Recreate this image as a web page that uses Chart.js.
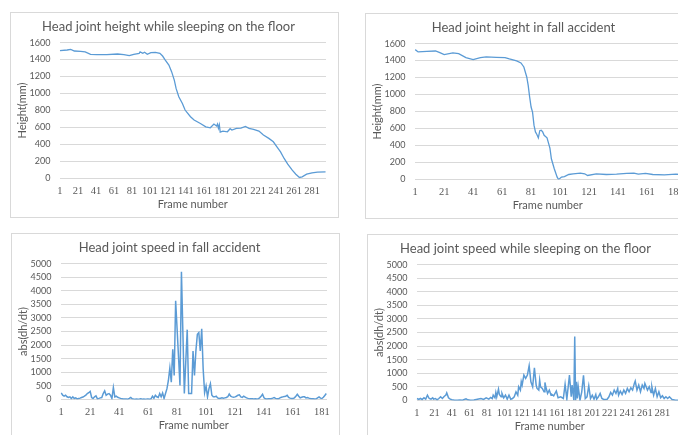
<!DOCTYPE html>
<html>
<head>
<meta charset="utf-8">
<script src="https://cdn.jsdelivr.net/npm/chart.js@4"></script>
<style>
  html, body { margin: 0; padding: 0; background: #fff; overflow: hidden; width: 678px; height: 435px; }
  .panel { position: absolute; width: 329px; height: 206px; box-sizing: border-box; border: 1px solid #d9d9d9; background: #fff; }
  .panel canvas { position: absolute; left: 0; top: 0; }
</style>
</head>
<body>
<div class="panel" style="left:10px;top:12px"><canvas id="sleepHeight" width="327" height="204"></canvas></div>
<div class="panel" style="left:365px;top:13px"><canvas id="fallHeight" width="327" height="204"></canvas></div>
<div class="panel" style="left:11px;top:233px"><canvas id="fallSpeed" width="327" height="204"></canvas></div>
<div class="panel" style="left:367px;top:234px"><canvas id="sleepSpeed" width="327" height="204"></canvas></div>
<script>
// tick labels
const sleepFrameTicks = [1, 21, 41, 61, 81, 101, 121, 141, 161, 181, 201, 221, 241, 261, 281];
const fallFrameTicks = [1, 21, 41, 61, 81, 101, 121, 141, 161, 181];
const heightTicks = [0, 200, 400, 600, 800, 1000, 1200, 1400, 1600];
const speedTicks = [0, 500, 1000, 1500, 2000, 2500, 3000, 3500, 4000, 4500, 5000];

// head joint height while sleeping on the floor (mm), read at these frames
const sleepHeightFrames = [1, 9, 13, 17, 24, 29, 35, 42, 53, 65, 72, 78, 83, 89, 90, 93, 95, 98, 102, 107,
  112, 115, 118, 122, 125, 128, 130, 133, 137, 140, 146, 150, 157, 163, 168, 172, 175, 176, 177, 178,
  179, 182, 187, 190, 192, 197, 202, 207, 211, 216, 222, 227, 233, 238, 242, 246, 250, 254, 259, 263,
  267, 270, 275, 281, 287, 296];
const sleepHeightValues = [1505, 1513, 1521, 1501, 1497, 1490, 1462, 1458, 1458, 1466, 1458, 1446, 1462, 1474, 1490, 1474, 1486, 1462, 1482, 1486,
  1474, 1442, 1395, 1336, 1258, 1159, 1061, 963, 884, 806, 727, 688, 648, 609, 597, 641, 617, 641, 593, 633,
  546, 558, 550, 586, 570, 590, 593, 613, 590, 578, 558, 511, 472, 432, 373, 314, 236, 169, 98, 51,
  12, 20, 51, 67, 75, 79];

// head joint height in fall accident (mm)
const fallHeightFrames = [1, 3, 9, 15, 18, 21, 27, 31, 36, 41, 46, 50, 57, 63, 66, 71, 74, 76, 78, 79,
  80, 81, 82, 83, 84, 85, 86, 87, 88, 89, 90, 92, 94, 95, 97, 99, 100, 102, 104, 107,
  110, 115, 118, 120, 126, 133, 140, 147, 152, 155, 160, 165, 173, 181, 184];
const fallHeightValues = [1529, 1502, 1509, 1513, 1494, 1470, 1490, 1482, 1435, 1411, 1435, 1443, 1439, 1435, 1419, 1396, 1372, 1325, 1207, 1109,
  971, 853, 794, 640, 560, 530, 490, 575, 580, 560, 520, 490, 370, 244, 126, 28, 0, 28, 35, 59,
  67, 75, 67, 47, 67, 59, 63, 71, 75, 63, 71, 59, 55, 63, 60];

// head joint speed in fall accident, abs(dh/dt), frames 1..184
const fallSpeedValues = [
  242, 157, 121, 157, 100, 73, 97, 36, 97, 36,
  60, 24, 40, 50, 73, 90, 121, 157, 218, 250,
  300, 73, 36, 97, 133, 24, 40, 60, 73, 218,
  320, 157, 200, 218, 157, 36, 440, 97, 121, 80,
  60, 40, 24, 20, 15, 20, 12, 40, 73, 24,
  15, 10, 20, 12, 15, 24, 10, 20, 12, 15,
  20, 10, 24, 121, 48, 157, 100, 73, 218, 97,
  242, 36, 218, 400, 700, 1160, 640, 1850, 880, 3630,
  2600, 1560, 520, 4700, 2460, 218, 1400, 2570, 218, 218,
  218, 1780, 884, 1800, 2400, 2460, 1790, 2600, 1126, 254,
  496, 97, 400, 580, 157, 100, 97, 121, 60, 36,
  48, 60, 48, 60, 73, 100, 200, 121, 97, 80,
  97, 120, 157, 170, 97, 80, 121, 90, 60, 40,
  24, 24, 30, 20, 24, 20, 24, 60, 120, 194,
  60, 24, 20, 24, 24, 30, 50, 73, 40, 24,
  24, 60, 80, 97, 110, 121, 157, 73, 50, 36,
  36, 60, 120, 194, 120, 60, 80, 97, 97, 60,
  73, 50, 36, 24, 24, 20, 24, 60, 97, 50,
  36, 80, 150, 218];
const fallSpeedFrames = fallSpeedValues.map((v, i) => i + 1);

// head joint speed while sleeping on the floor, read at these frames
const sleepSpeedFrames = [1, 3, 5, 7, 9, 11, 13, 15, 17, 19, 20, 22, 24, 26, 28, 30, 32, 34, 35, 37,
  39, 41, 44, 47, 50, 53, 55, 57, 59, 62, 66, 70, 74, 77, 80, 83, 85, 87, 88, 90,
  91, 92, 94, 95, 97, 98, 100, 102, 104, 106, 108, 110, 112, 114, 116, 117, 119, 120, 121, 123,
  125, 127, 129, 131, 133, 135, 137, 138, 140, 141, 142, 144, 146, 147, 148, 150, 152, 154, 155, 157,
  160, 162, 165, 168, 170, 172, 175, 177, 178, 180, 181, 182, 183, 184, 185, 187, 189, 191, 193, 195,
  197, 199, 201, 203, 205, 206, 208, 210, 212, 214, 218, 220, 222, 224, 226, 228, 230, 231, 233, 235,
  237, 239, 241, 243, 245, 247, 249, 250, 252, 254, 256, 258, 260, 261, 264, 266, 268, 269, 271, 273,
  275, 277, 279, 281, 283, 285, 287, 289, 292, 296, 300];
const sleepSpeedValues = [74, 37, 74, 37, 99, 49, 197, 74, 49, 99, 49, 74, 25, 74, 136, 74, 148, 197, 280, 99,
  49, 25, 12, 12, 20, 12, 37, 60, 25, 12, 20, 49, 74, 37, 99, 49, 111, 74, 197, 99,
  296, 136, 420, 222, 136, 259, 99, 197, 49, 197, 49, 74, 136, 320, 197, 505, 382, 690, 567, 936,
  813, 936, 1280, 690, 505, 1200, 567, 444, 382, 750, 505, 444, 320, 665, 505, 259, 382, 197, 222, 172,
  350, 99, 136, 74, 600, 49, 936, 136, 567, 12, 2350, 12, 690, 74, 505, 12, 320, 930, 74, 136,
  542, 74, 197, 49, 222, 49, 136, 259, 74, 37, 49, 136, 296, 197, 382, 259, 444, 197, 345, 222,
  382, 259, 444, 320, 468, 382, 628, 715, 382, 567, 320, 567, 444, 628, 382, 505, 296, 505, 197, 444,
  136, 320, 99, 172, 74, 136, 74, 136, 37, 12, 12];

const BLUE = '#5b9bd5';
const TEXT = '#595959';
const GRID = '#d9d9d9';

function makeChart(id, title, yTitle, frames, values, xTicks, xMax, yTicks, lineWidth) {
  new Chart(document.getElementById(id), {
    type: 'line',
    data: {
      datasets: [{
        data: frames.map((f, i) => ({ x: f, y: values[i] })),
        borderColor: BLUE,
        borderWidth: lineWidth,
        pointRadius: 0,
        tension: 0,
        fill: false
      }]
    },
    options: {
      responsive: false,
      animation: false,
      layout: { padding: { left: 0, right: 12, top: 0, bottom: 0 } },
      plugins: {
        legend: { display: false },
        tooltip: { enabled: false },
        title: {
          display: true,
          text: title,
          color: TEXT,
          font: { family: 'Lato', size: 13, weight: 'normal' },
          padding: { top: 6, bottom: 8 }
        }
      },
      scales: {
        x: {
          type: 'linear',
          min: 0.5,
          max: xMax + 0.5,
          grid: { display: false, drawTicks: false },
          border: { display: false },
          afterBuildTicks: s => { s.ticks = xTicks.map(v => ({ value: v })); },
          afterFit: s => { s.height = 38.5; },
          ticks: {
            autoSkip: false, maxRotation: 0, padding: 6, color: TEXT,
            font: { family: 'Liberation Serif', size: 10.5 },
            callback: v => v
          },
          title: {
            display: true, text: 'Frame number', color: TEXT,
            font: { family: 'Lato', size: 11 },
            padding: { top: 0, bottom: 6 }
          }
        },
        y: {
          min: 0,
          max: yTicks[yTicks.length - 1],
          grid: { color: GRID, drawTicks: false },
          border: { display: false },
          afterBuildTicks: s => { s.ticks = yTicks.map(v => ({ value: v })); },
          afterFit: s => { s.width = 48.5; },
          ticks: {
            autoSkip: false, padding: 9, color: TEXT,
            font: { family: 'Lato', size: 9 },
            callback: v => v
          },
          title: {
            display: true, text: yTitle, color: TEXT,
            font: { family: 'Lato', size: 11 },
            padding: { top: 5, bottom: 0 }
          }
        }
      }
    }
  });
}

makeChart('sleepHeight', 'Head joint height while sleeping on the floor', 'Height(mm)',
  sleepHeightFrames, sleepHeightValues, sleepFrameTicks, 296, heightTicks, 1.3);
makeChart('fallHeight', 'Head joint height in fall accident', 'Height(mm)',
  fallHeightFrames, fallHeightValues, fallFrameTicks, 184, heightTicks, 1.3);
makeChart('fallSpeed', 'Head joint speed in fall accident', 'abs(dh/dt)',
  fallSpeedFrames, fallSpeedValues, fallFrameTicks, 184, speedTicks, 1.5);
makeChart('sleepSpeed', 'Head joint speed while sleeping on the floor', 'abs(dh/dt)',
  sleepSpeedFrames, sleepSpeedValues, sleepFrameTicks, 304, speedTicks, 1.5);
</script>
</body>
</html>
